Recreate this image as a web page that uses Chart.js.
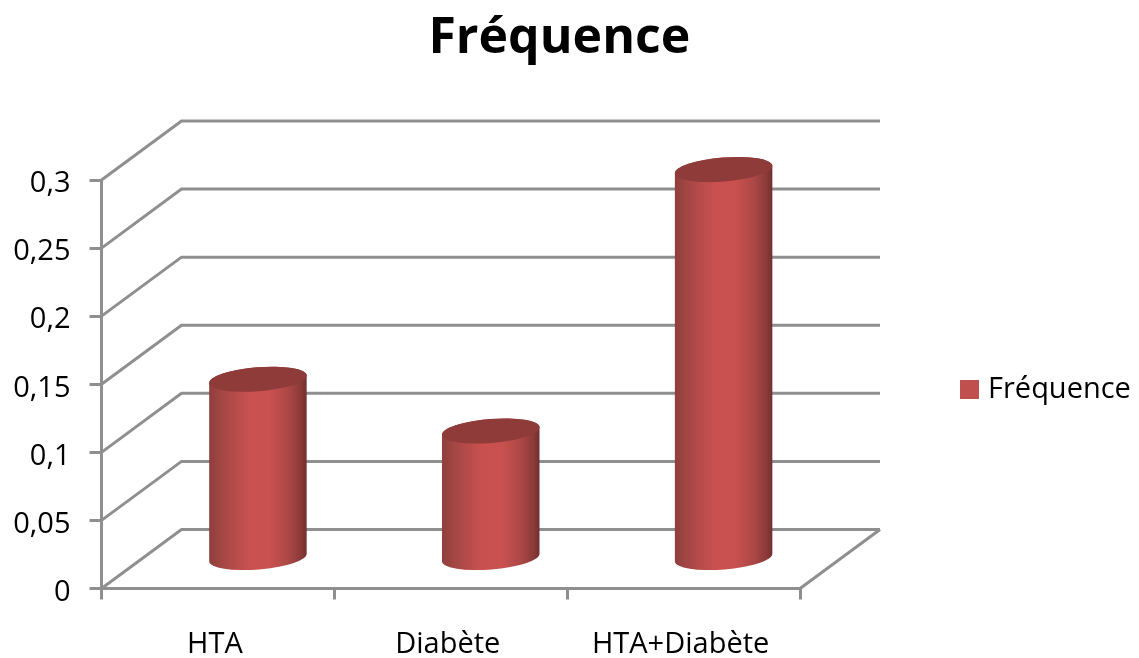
<!DOCTYPE html>
<html lang="fr">
<head>
<meta charset="utf-8">
<title>Fréquence</title>
<script src="https://cdn.jsdelivr.net/npm/chart.js@4/dist/chart.umd.js"></script>
<style>
  html, body { margin: 0; padding: 0; background: #fff; }
  #wrap { width: 1139px; height: 658px; }
</style>
</head>
<body>
<div id="wrap"><canvas id="chart" width="1139" height="658"></canvas></div>
<script>
const categories = ['HTA', 'Diabète', 'HTA+Diabète'];
const seriesName = 'Fréquence';
const frequencies = [0.132, 0.094, 0.286];
const axisMax = 0.3;
const axisStep = 0.05;

const GRID = '#8f8f8f';
const RED = '#c0504d';
const DEPTH_X = 80;      // horizontal reach of the receding walls
const DEPTH_Y = 59;      // vertical rise of the receding walls
const ELL_RY = 12;       // minor radius of the cylinder ends
const ELL_TILT = -0.08;  // slant of the cylinder ends, radians
const FONT = '"Open Sans", sans-serif';

// Square legend swatch, kept as a sprite so the label sits close to it.
const swatch = document.createElement('canvas');
swatch.width = 19;
swatch.height = 19;
const swatchCtx = swatch.getContext('2d');
swatchCtx.fillStyle = RED;
swatchCtx.fillRect(0, 0, 19, 19);

// Back wall and floor of the 3D box, positioned from the value scale's ticks.
const wallsPlugin = {
  id: 'walls',
  beforeDatasetsDraw(chart) {
    const { ctx, chartArea: a, scales: { y } } = chart;
    ctx.save();
    ctx.strokeStyle = GRID;
    ctx.lineWidth = 3;
    ctx.lineJoin = 'miter';
    y.ticks.forEach(t => {
      const py = y.getPixelForValue(t.value);
      ctx.beginPath();
      ctx.moveTo(a.left, py);
      ctx.lineTo(a.left + DEPTH_X, py - DEPTH_Y);
      ctx.lineTo(a.right + DEPTH_X, py - DEPTH_Y);
      ctx.stroke();
    });
    const py0 = y.getPixelForValue(0);
    ctx.beginPath();
    ctx.moveTo(a.right, py0);
    ctx.lineTo(a.right + DEPTH_X, py0 - DEPTH_Y);
    ctx.stroke();
    ctx.restore();
  }
};

// Replaces the flat bars by shaded cylinders standing mid-way in the box depth.
const cylinderPlugin = {
  id: 'cylinders',
  beforeDatasetDraw(chart, args) {
    const { ctx } = chart;
    args.meta.data.forEach(bar => {
      const rx = bar.width / 2;
      const cx = bar.x + DEPTH_X / 2;
      const baseY = bar.base - DEPTH_Y / 2;
      const topY = bar.y - DEPTH_Y / 2;
      const g = ctx.createLinearGradient(cx - rx, 0, cx + rx, 0);
      g.addColorStop(0, '#8e3e3c');
      g.addColorStop(0.12, '#a24644');
      g.addColorStop(0.4, '#c8514f');
      g.addColorStop(0.62, '#c9514f');
      g.addColorStop(0.82, '#a94745');
      g.addColorStop(0.94, '#8a3a38');
      g.addColorStop(1, '#722f2e');
      ctx.save();
      ctx.fillStyle = g;
      ctx.beginPath();
      ctx.ellipse(cx, baseY, rx, ELL_RY, ELL_TILT, 0, Math.PI);
      ctx.ellipse(cx, topY, rx, ELL_RY, ELL_TILT, Math.PI, Math.PI * 2);
      ctx.closePath();
      ctx.fill();
      ctx.fillStyle = '#8e3b39';
      ctx.beginPath();
      ctx.ellipse(cx, topY, rx, ELL_RY, ELL_TILT, 0, Math.PI * 2);
      ctx.fill();
      ctx.restore();
    });
    return false;
  }
};

// Final placement of the title and the legend block.
const placementPlugin = {
  id: 'placement',
  afterLayout(chart) {
    const t = chart.titleBlock;
    t.left += 26;
    t.right += 26;
    const l = chart.legend;
    const dy = 375 - l.top - l.options.labels.padding;
    l.top += dy;
    l.bottom += dy;
    l.width = 339;
    l.right = l.left + l.width;
  }
};

new Chart(document.getElementById('chart'), {
  type: 'bar',
  data: {
    labels: categories,
    datasets: [{
      label: seriesName,
      data: frequencies,
      backgroundColor: RED,
      borderWidth: 0,
      categoryPercentage: 1,
      barPercentage: 0.42
    }]
  },
  plugins: [wallsPlugin, cylinderPlugin, placementPlugin],
  options: {
    responsive: false,
    animation: false,
    layout: { padding: { left: 0, right: 72.3, top: 0, bottom: 0 } },
    plugins: {
      tooltip: { enabled: false },
      title: {
        display: true,
        text: seriesName,
        color: '#000',
        font: { family: FONT, size: 50, weight: 'bold', lineHeight: 1.2 },
        padding: { top: 9, bottom: 111 }
      },
      legend: {
        position: 'right',
        align: 'start',
        labels: {
          color: '#000',
          font: { family: FONT, size: 29 },
          usePointStyle: true,
          pointStyle: swatch,
          pointStyleWidth: 9,
          padding: 164.5
        }
      }
    },
    scales: {
      x: {
        afterFit(s) { s.height = 69.5; },
        border: { color: GRID, width: 3 },
        grid: { offset: true, drawOnChartArea: false, color: GRID, lineWidth: 3, tickLength: 11 },
        ticks: { color: '#000', padding: 28, labelOffset: -3, maxRotation: 0, font: { family: FONT, size: 29 } }
      },
      y: {
        min: 0,
        max: axisMax,
        afterFit(s) { s.width = 101.5; },
        border: { color: GRID, width: 3 },
        grid: { drawOnChartArea: false, color: GRID, lineWidth: 3, tickLength: 12 },
        ticks: {
          stepSize: axisStep,
          color: '#000',
          padding: 19,
          labelOffset: 4,
          font: { family: FONT, size: 29 },
          callback: v => String(+v.toFixed(2)).replace('.', ',')
        }
      }
    }
  }
});
</script>
</body>
</html>
